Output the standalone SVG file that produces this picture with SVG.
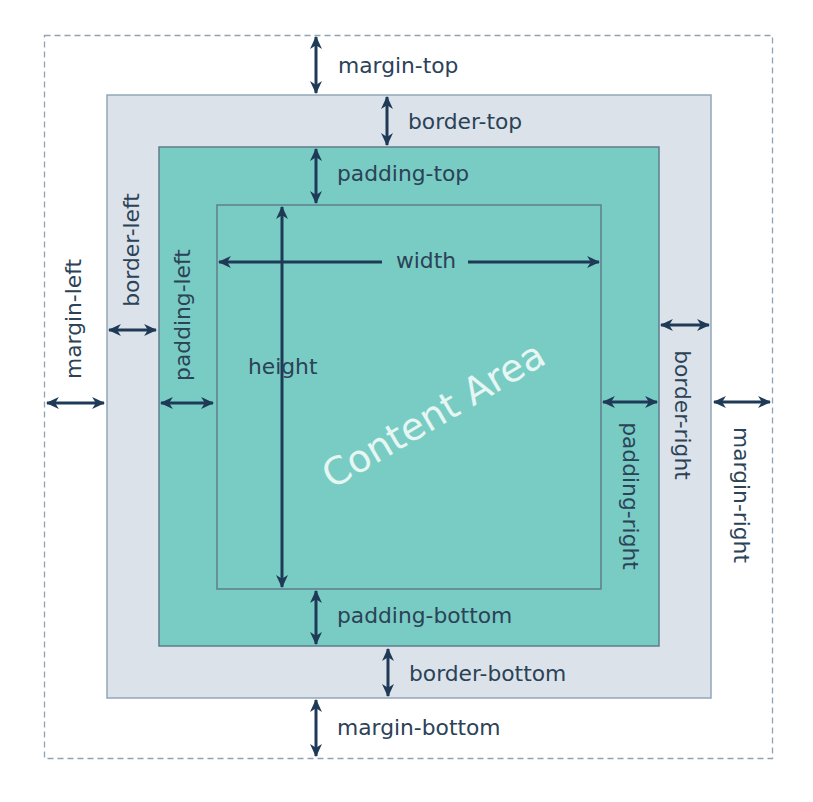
<svg xmlns="http://www.w3.org/2000/svg" width="813" height="802" viewBox="0 0 813 802">
  <style>
    .lbl { font-family: "DejaVu Sans", Verdana, sans-serif; font-size: 21.8px; fill: #2b4257; }
    .arr { stroke: #1e3a56; stroke-width: 3; fill: none; marker-start: url(#ah); marker-end: url(#ah); }
    .one { stroke: #1e3a56; stroke-width: 3; fill: none; }
  </style>
  <defs>
    <marker id="ah" viewBox="0 0 12 12" refX="11" refY="6" markerWidth="13" markerHeight="13" markerUnits="userSpaceOnUse" orient="auto-start-reverse">
      <path d="M0,0.5 L12,6 L0,11.5 L3.5,6 Z" fill="#1e3a56"/>
    </marker>
  </defs>
  <rect width="813" height="802" fill="#ffffff"/>
  <g id="margin">
    <rect x="44.5" y="35.5" width="728" height="723" fill="none" stroke="#8ea3b4" stroke-width="1.3" stroke-dasharray="6,4"/>
  </g>
  <g id="border">
    <rect x="107" y="95" width="604" height="603" fill="#dbe2ea" stroke="#93a6b8" stroke-width="1.5"/>
  </g>
  <g id="padding">
    <rect x="159" y="147" width="500" height="499" fill="#79ccc3" stroke="#5f7d8c" stroke-width="1.5"/>
  </g>
  <g id="content">
    <rect x="217" y="205" width="384" height="384" fill="#79ccc3" stroke="#5f7d8c" stroke-width="1.5"/>
    <text x="440" y="426" transform="rotate(-30.5 440 426)" text-anchor="middle" font-family="DejaVu Sans, Verdana, sans-serif" font-size="38" fill="#e6f6f3">Content Area</text>
  </g>
  <g id="connectors">
    <line class="arr" x1="316" y1="37" x2="316" y2="93"/>
    <line class="arr" x1="387" y1="97" x2="387" y2="145"/>
    <line class="arr" x1="316" y1="149" x2="316" y2="203"/>
    <line class="arr" x1="316" y1="591" x2="316" y2="644"/>
    <line class="arr" x1="388" y1="649" x2="388" y2="696"/>
    <line class="arr" x1="316" y1="700" x2="316" y2="756"/>
    <line class="arr" x1="282" y1="207" x2="282" y2="587"/>
    <line class="one" x1="219" y1="262" x2="382" y2="262" marker-start="url(#ah)"/>
    <line class="one" x1="468" y1="262" x2="599" y2="262" marker-end="url(#ah)"/>
    <line class="arr" x1="47" y1="403" x2="104" y2="403"/>
    <line class="arr" x1="109" y1="330" x2="156" y2="330"/>
    <line class="arr" x1="161" y1="403" x2="213" y2="403"/>
    <line class="arr" x1="661" y1="325" x2="709" y2="325"/>
    <line class="arr" x1="603" y1="402" x2="657" y2="402"/>
    <line class="arr" x1="714" y1="402" x2="770" y2="402"/>
  </g>
  <g id="labels">
    <text class="lbl" x="338" y="73">margin-top</text>
    <text class="lbl" x="408" y="129">border-top</text>
    <text class="lbl" x="337" y="181">padding-top</text>
    <text class="lbl" x="337" y="623">padding-bottom</text>
    <text class="lbl" x="409" y="681">border-bottom</text>
    <text class="lbl" x="337" y="735">margin-bottom</text>
    <text class="lbl" x="426" y="268" text-anchor="middle">width</text>
    <text class="lbl" x="248" y="374">height</text>
    <text class="lbl" text-anchor="middle" transform="translate(81 319) rotate(-90)">margin-left</text>
    <text class="lbl" text-anchor="middle" transform="translate(139 250) rotate(-90)">border-left</text>
    <text class="lbl" text-anchor="middle" transform="translate(190 315) rotate(-90)">padding-left</text>
    <text class="lbl" text-anchor="middle" transform="translate(675 415) rotate(90)">border-right</text>
    <text class="lbl" text-anchor="middle" transform="translate(623 496) rotate(90)">padding-right</text>
    <text class="lbl" text-anchor="middle" transform="translate(734 495) rotate(90)">margin-right</text>
  </g>
</svg>
